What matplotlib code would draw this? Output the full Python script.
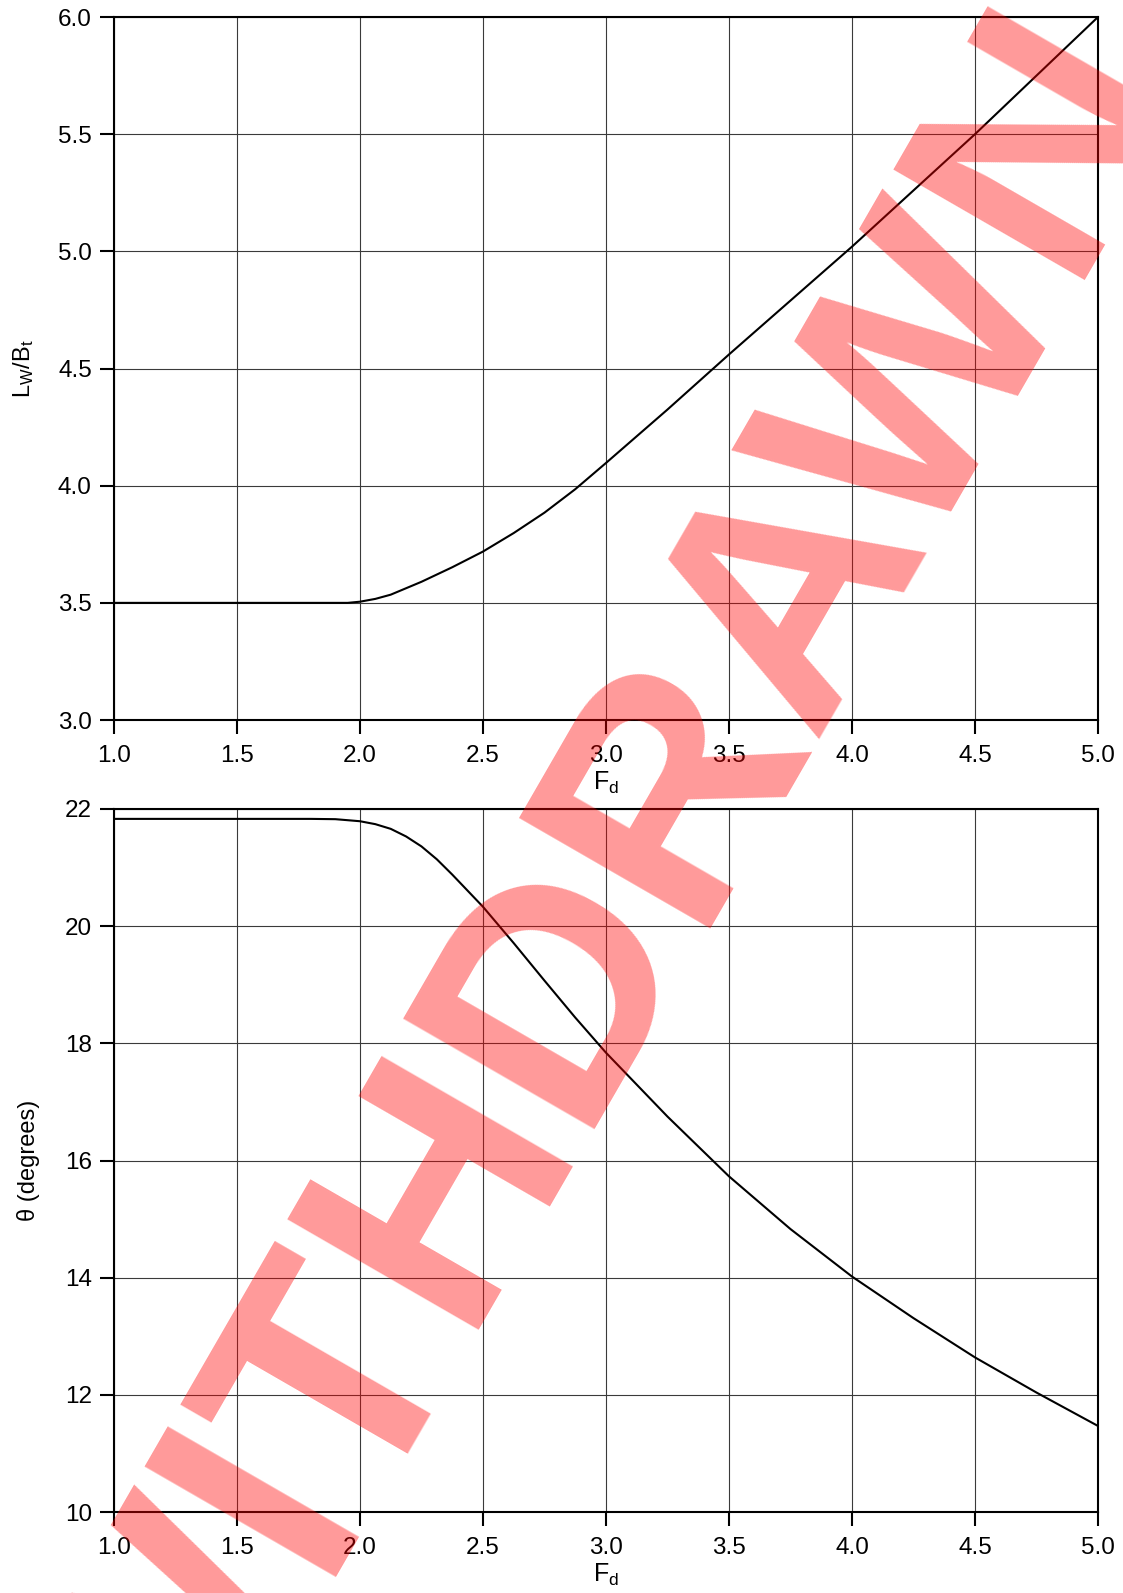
import matplotlib
matplotlib.use("Agg")
import matplotlib.pyplot as plt

plt.rcParams["font.family"] = ["Liberation Sans", "DejaVu Sans"]
plt.rcParams["mathtext.default"] = "regular"

# Wake length ratio vs densimetric Froude number
fd_top = [1.0, 1.5, 1.95, 2.0, 2.0625, 2.125, 2.25, 2.375, 2.5, 2.625, 2.75,
          2.875, 3.0, 3.25, 3.5, 3.75, 4.0, 4.25, 4.5, 4.75, 5.0]
lw_bt = [3.5, 3.5, 3.5, 3.505, 3.517, 3.535, 3.59, 3.652, 3.719, 3.798, 3.885,
         3.985, 4.097, 4.325, 4.56, 4.79, 5.02, 5.26, 5.5, 5.75, 6.0]

# Spread angle vs densimetric Froude number
fd_bot = [1.0, 1.5, 1.8, 1.9, 2.0, 2.0625, 2.125, 2.1875, 2.25, 2.3125, 2.375,
          2.5, 2.625, 2.75, 2.875, 3.0, 3.25, 3.5, 3.75, 4.0, 4.25, 4.5, 4.75, 5.0]
theta = [21.83, 21.83, 21.83, 21.825, 21.79, 21.74, 21.66, 21.53, 21.36, 21.14,
         20.88, 20.33, 19.71, 19.07, 18.44, 17.84, 16.75, 15.73, 14.83, 14.02,
         13.31, 12.64, 12.04, 11.47]

x_ticks = [1.0, 1.5, 2.0, 2.5, 3.0, 3.5, 4.0, 4.5, 5.0]
top_ticks = [3.0, 3.5, 4.0, 4.5, 5.0, 5.5, 6.0]
bot_ticks = [10, 12, 14, 16, 18, 20, 22]

fig = plt.figure(figsize=(11.23, 15.93), dpi=100)
ax1 = fig.add_axes([0.1015, 0.548, 0.8762, 0.4413])
ax2 = fig.add_axes([0.1015, 0.0508, 0.8762, 0.4414])


def style(ax, yticks, fmt):
    ax.set_xlim(1.0, 5.0)
    ax.set_ylim(yticks[0], yticks[-1])
    ax.set_xticks(x_ticks)
    ax.set_xticklabels([f"{v:.1f}" for v in x_ticks])
    ax.set_yticks(yticks)
    ax.set_yticklabels([fmt.format(v) for v in yticks])
    ax.grid(True, color="#3a3a3a", linewidth=0.8)
    ax.set_axisbelow(True)
    for s in ax.spines.values():
        s.set_linewidth(1.5)
    ax.tick_params(direction="out", length=10, width=1.5, labelsize=17.5, pad=6)
    ax.tick_params(axis="x", pad=8)
    ax.set_xlabel("$F_d$", fontsize=18, labelpad=2)


ax1.plot(fd_top, lw_bt, color="black", linewidth=1.5)
style(ax1, top_ticks, "{:.1f}")
ax1.set_ylabel("$L_W/B_t$", fontsize=17, labelpad=16)

ax2.plot(fd_bot, theta, color="black", linewidth=1.5)
style(ax2, bot_ticks, "{:d}")
ax2.set_ylabel("θ (degrees)", fontsize=17, labelpad=18)

fig.text(0.544, 0.4126, "WITHDRAWN", rotation=60, rotation_mode="anchor",
         ha="center", va="center", color="red", alpha=0.4,
         fontweight="bold", fontsize=231, zorder=10)

fig.savefig("out.png", dpi=100)
